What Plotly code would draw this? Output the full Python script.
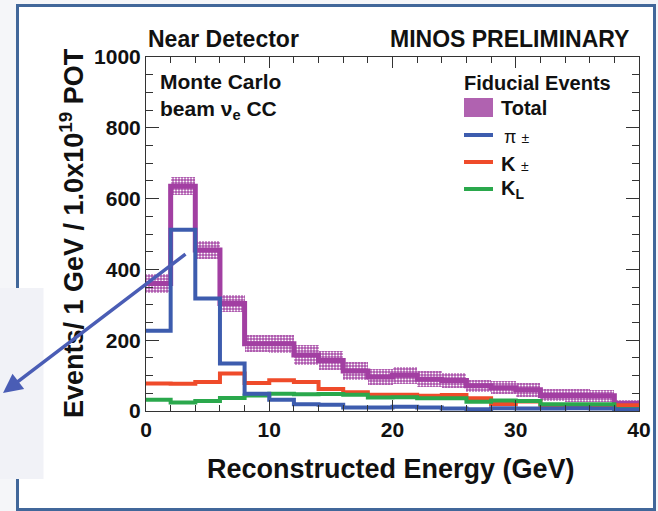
import plotly.graph_objects as go

# ---------------- data ----------------
bin_edges = [0, 2, 4, 6, 8, 10, 12, 14, 16, 18, 20, 22, 24, 26, 28, 30, 32, 34, 36, 38, 40]
total = [360, 635, 455, 304, 190, 190, 158, 143, 113, 96, 101, 90, 86, 71, 66, 60, 44, 44, 43, 22]
total_err = [26, 26, 26, 24, 24, 26, 28, 27, 25, 22, 24, 22, 20, 17, 19, 20, 17, 19, 17, 10]
pi_pm = [227, 512, 318, 134, 49, 32, 19, 18, 10, 10, 12, 10, 7, 5, 8, 7, 7, 8, 7, 4]
k_pm = [78, 77, 82, 106, 79, 87, 82, 62, 53, 46, 46, 43, 45, 36, 20, 27, 13, 15, 14, 16]
k_l = [32, 24, 28, 37, 44, 49, 47, 48, 46, 38, 39, 36, 36, 26, 30, 28, 19, 19, 19, 6]

x_ticks = [0, 10, 20, 30, 40]
y_ticks = [0, 200, 400, 600, 800, 1000]

# ---------------- styles ----------------
W, H = 658, 511
L, R, T, B = 146, 19, 57, 100
PW, PH = W - L - R, H - T - B
FONT = "Liberation Sans, Arial, Helvetica, sans-serif"
C_TOT = "#a23fa2"
C_BAND = "#a94fa9"
C_PI = "#3d5cae"
C_K = "#ef4b2a"
C_KL = "#2aa84c"
C_FRAME = "#41679a"
C_ARROW = "#4a5db5"


def px(x):
    return (x - L) / PW


def py(y):
    return (H - B - y) / PH


def steps(vals):
    return list(vals) + [vals[-1]]


centers = [(bin_edges[i] + bin_edges[i + 1]) / 2 for i in range(len(total))]
widths = [bin_edges[i + 1] - bin_edges[i] for i in range(len(total))]

fig = go.Figure()

# error band of total
fig.add_trace(go.Bar(
    x=centers, y=[2 * e for e in total_err],
    base=[t - e for t, e in zip(total, total_err)],
    width=widths,
    marker=dict(color=C_BAND, line_width=0,
                pattern=dict(shape=".", fgcolor="white", bgcolor=C_BAND,
                             size=3, solidity=0.35, fillmode="replace")),
    showlegend=False, hoverinfo="skip"))

fig.add_trace(go.Scatter(x=bin_edges, y=steps(total), mode="lines",
                         line=dict(color=C_TOT, width=5, shape="hv"),
                         showlegend=False))
fig.add_trace(go.Scatter(x=bin_edges, y=steps(k_pm), mode="lines",
                         line=dict(color=C_K, width=4, shape="hv"),
                         showlegend=False))
fig.add_trace(go.Scatter(x=bin_edges, y=steps(k_l), mode="lines",
                         line=dict(color=C_KL, width=4, shape="hv"),
                         showlegend=False))
fig.add_trace(go.Scatter(x=bin_edges, y=steps(pi_pm), mode="lines",
                         line=dict(color=C_PI, width=4, shape="hv"),
                         showlegend=False))

axis_common = dict(
    ticks="inside", tickcolor="#333333", tickwidth=1,
    showline=True, linecolor="#333333", linewidth=1, mirror="ticks",
    showgrid=False, zeroline=False,
    tickfont=dict(family=FONT, size=21, color="#111111", weight="bold"),
)

fig.update_xaxes(range=[0, 40], tickvals=x_ticks, ticklen=11,
                 minor=dict(dtick=2, tick0=0, ticklen=6, ticks="inside", tickcolor="#333333"),
                 **axis_common)
fig.update_yaxes(range=[0, 1000], tickvals=y_ticks, ticklen=13,
                 minor=dict(dtick=50, tick0=0, ticklen=7, ticks="inside", tickcolor="#333333"),
                 **axis_common)

shapes = [
    # slide frame
    dict(type="rect", xref="paper", yref="paper",
         x0=px(17.5), x1=px(654.5), y0=py(509.5), y1=py(5.5),
         line=dict(color=C_FRAME, width=3), fillcolor="white", layer="below"),
    # light box on the left
    dict(type="rect", xref="paper", yref="paper",
         x0=px(-2), x1=px(43.5), y0=py(479), y1=py(288),
         line=dict(width=0), fillcolor="#f1f2f7", layer="below"),
    # legend swatches
    dict(type="rect", xref="paper", yref="paper",
         x0=px(464), x1=px(493), y0=py(117), y1=py(98),
         line=dict(width=0), fillcolor="#b062b0", layer="above"),
    dict(type="line", xref="paper", yref="paper",
         x0=px(464), x1=px(493), y0=py(135), y1=py(135),
         line=dict(color=C_PI, width=4)),
    dict(type="line", xref="paper", yref="paper",
         x0=px(464), x1=px(493), y0=py(162), y1=py(162),
         line=dict(color=C_K, width=4)),
    dict(type="line", xref="paper", yref="paper",
         x0=px(464), x1=px(493), y0=py(189), y1=py(189),
         line=dict(color=C_KL, width=4)),
]


def txt(text, x, y, size, xanchor="left", weight="bold", angle=0):
    return dict(text=text, x=px(x), y=py(y), xref="paper", yref="paper",
                xanchor=xanchor, yanchor="middle", showarrow=False,
                textangle=angle,
                font=dict(family=FONT, size=size, color="#111111", weight=weight))


annotations = [
    txt("Near Detector", 146, 39.5, 23),
    txt("MINOS PRELIMINARY", 631, 39.5, 23, xanchor="right"),
    txt("Monte Carlo", 158, 81, 21),
    txt("beam ν<sub>e</sub> CC", 158, 110, 21),
    txt("Fiducial Events", 462, 83, 20),
    txt("Total", 499, 107.5, 20),
    txt("π <span style='font-size:14px'>±</span>", 502, 137, 18, weight="normal"),
    txt("K <span style='font-size:14px;font-weight:normal'>±</span>", 499, 164, 20),
    txt("K<sub>L</sub>", 499, 189, 20),
    txt("Reconstructed Energy (GeV)", 391, 469, 27, xanchor="center"),
    txt("Events/ 1 GeV / 1.0x10<sup>19</sup> POT", 72, 233, 27, xanchor="center", angle=-90),
    # arrow from the slide
    dict(text="", x=px(3), y=py(393), xref="paper", yref="paper",
         ax=184, ay=-140, showarrow=True, arrowhead=2, arrowsize=1.1,
         arrowwidth=3.5, arrowcolor=C_ARROW, standoff=0),
]

fig.update_layout(
    width=W, height=H,
    margin=dict(l=L, r=R, t=T, b=B, autoexpand=False),
    paper_bgcolor="#f5f6f9", plot_bgcolor="white",
    barmode="overlay", bargap=0,
    showlegend=False,
    shapes=shapes, annotations=annotations,
)

fig.write_html("out.html")
